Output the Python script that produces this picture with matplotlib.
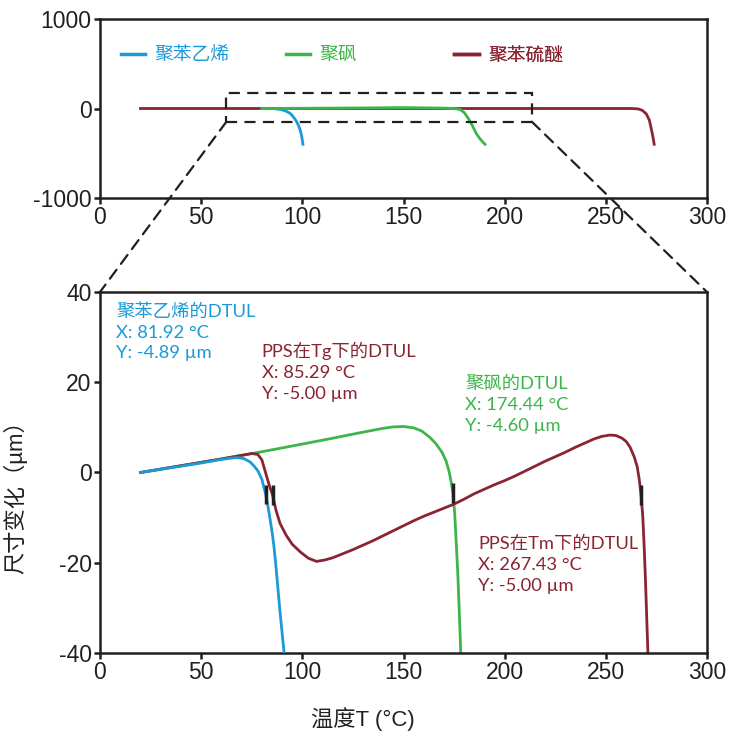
import matplotlib
matplotlib.use('Agg')
from matplotlib import pyplot as plt
from matplotlib.patches import Rectangle, ConnectionPatch
from matplotlib.lines import Line2D

plt.rcParams['font.family'] = ['Liberation Sans', 'Noto Sans CJK SC', 'DejaVu Sans']
plt.rcParams['axes.unicode_minus'] = False

BLUE = '#1a9ad8'
GREEN = '#3db54a'
RED = '#8a2433'

names = ['聚苯乙烯', '聚砜', '聚苯硫醚']

# top panel: full range curves
ps_top_x = [80, 84, 86, 88, 90, 92, 94, 95.5, 97, 98, 99, 99.7, 100.3]
ps_top_y = [0, 0, -2, -7, -15, -30, -55, -92, -140, -185, -245, -310, -400]
psu_top_x = [80, 120, 150, 170, 175, 178, 180, 182, 184, 186, 187.5, 189, 190.3]
psu_top_y = [0, 5, 10, 5, 0, -12, -45, -110, -190, -280, -330, -370, -400]
pps_top_x = [20, 100, 200, 263, 266, 268, 270, 271.5, 272.5, 273.3, 273.9]
pps_top_y = [0, 0, 0, 0, -5, -20, -60, -130, -230, -320, -400]

# bottom panel: zoomed curves
ps_x = [20, 30, 40, 50, 60, 65, 68, 71, 74, 76, 78, 80, 81.92, 83, 84, 85, 86,
        87, 88, 89, 90, 91]
ps_y = [0, 0.7, 1.4, 2.1, 2.9, 3.2, 3.3, 3.1, 2.4, 1.5, 0.4, -1.5, -4.89, -7.5,
        -10.2, -13, -16.5, -21, -26, -31, -35.5, -40]
psu_x = [20, 40, 60, 80, 100, 115, 125, 133, 140, 145, 150, 155, 159, 163,
         166, 169, 171, 172.5, 173.6, 174.44, 175.3, 176, 176.8, 177.5, 178.3]
psu_y = [0, 1.5, 3.0, 4.6, 6.3, 7.6, 8.5, 9.2, 9.8, 10.1, 10.2, 9.9, 9.2,
         7.8, 6.4, 4.5, 2.6, 0.3, -2.2, -4.6, -9, -15, -22, -30, -40]
pps_x = [20, 40, 60, 70, 75, 78, 80, 82, 83.5, 85.29, 87, 89, 92, 95, 99, 103,
         107, 111, 115, 120, 125, 130, 135, 140, 145, 150, 155, 160, 165, 170,
         175, 180, 185, 190, 195, 200, 205, 210, 215, 220, 225, 230, 235, 240,
         244, 248, 252, 255, 258, 260, 262, 264, 265.5, 266.5, 267.43, 268.3,
         269, 269.6, 270.2, 270.8]
pps_y = [0, 1.5, 3.0, 3.8, 4.2, 4.0, 2.8, -0.3, -2.6, -5.0, -8.4, -11.3, -13.9,
         -15.9, -17.6, -19.0, -19.7, -19.4, -18.9, -18.0, -17.1, -16.1, -15.1,
         -14.0, -12.9, -11.8, -10.7, -9.7, -8.8, -7.9, -7.0, -5.9, -4.7, -3.7,
         -2.7, -1.8, -0.8, 0.3, 1.4, 2.5, 3.5, 4.5, 5.6, 6.6, 7.4, 8.0, 8.3,
         8.2, 7.6, 6.9, 5.6, 3.5, 1.3, -1.5, -5.0, -10, -17, -24, -32, -40]

# DTUL points
dtul_x = [81.92, 85.29, 174.44, 267.43]
dtul_y = [-4.89, -5.00, -4.60, -5.00]
dtul_labels = ['聚苯乙烯的DTUL\nX: 81.92 °C\nY: -4.89 µm',
               'PPS在Tg下的DTUL\nX: 85.29 °C\nY: -5.00 µm',
               '聚砜的DTUL\nX: 174.44 °C\nY: -4.60 µm',
               'PPS在Tm下的DTUL\nX: 267.43 °C\nY: -5.00 µm']
dtul_colors = [BLUE, RED, GREEN, RED]
label_pos = [(7.9, 37.6), (80.0, 29.0), (180.4, 21.5), (187.0, -14.0)]

# zoom window in top panel
win_x = (62.5, 213.4)
win_y = (-147, 173)


def style_axes(ax):
    for s in ax.spines.values():
        s.set_linewidth(1.8)
        s.set_color('#231f20')
    ax.tick_params(direction='out', length=4, width=1.8, labelsize=16.5,
                   colors='#231f20', pad=2)


fig = plt.figure(figsize=(7.45, 7.41), dpi=100)
ax_top = fig.add_axes([100 / 745, 1 - 198 / 741, 607 / 745, 179 / 741])
ax_bot = fig.add_axes([100 / 745, 1 - 653 / 741, 607 / 745, 361 / 741])

lw = 2.0
ax_top.plot(pps_top_x, pps_top_y, color=RED, lw=lw, label=names[2])
ax_top.plot(ps_top_x, ps_top_y, color=BLUE, lw=lw, label=names[0])
ax_top.plot(psu_top_x, psu_top_y, color=GREEN, lw=lw, label=names[1])
ax_top.set_xlim(0, 300)
ax_top.set_ylim(-1000, 1000)
ax_top.set_xticks([0, 50, 100, 150, 200, 250, 300])
ax_top.set_yticks([-1000, 0, 1000])
style_axes(ax_top)

dash = (0, (5, 3.3))
ax_top.add_patch(Rectangle((win_x[0], win_y[0]), win_x[1] - win_x[0],
                           win_y[1] - win_y[0], fill=False, lw=1.6,
                           ls=dash, ec='#231f20', zorder=5))

# legend: three separate entries
leg_pos = [0.034, 0.306, 0.584]
for name, c, xp in zip(names, [BLUE, GREEN, RED], leg_pos):
    h = Line2D([], [], color=c, lw=2.5)
    leg = ax_top.legend([h], [name], loc='center left',
                        bbox_to_anchor=(xp, 0.80), frameon=False,
                        borderpad=0, borderaxespad=0, handlelength=1.3,
                        handletextpad=0.5,
                        prop={'family': ['Noto Sans CJK SC'], 'size': 13.5})
    for t in leg.get_texts():
        t.set_color(c)
    ax_top.add_artist(leg)

ax_bot.plot(ps_x, ps_y, color=BLUE, lw=lw, zorder=3)
ax_bot.plot(pps_x, pps_y, color=RED, lw=lw, zorder=2)
ax_bot.plot(psu_x, psu_y, color=GREEN, lw=lw, zorder=1)
ax_bot.vlines(dtul_x, [y - 2.2 for y in dtul_y], [y + 2.2 for y in dtul_y],
              color='#231f20', lw=2.5, zorder=4)
for txt, c, (tx, ty) in zip(dtul_labels, dtul_colors, label_pos):
    ax_bot.text(tx, ty, txt, color=c, fontsize=13.2, va='top', ha='left',
                linespacing=1.38, family=['Lato', 'Noto Sans CJK SC'])

ax_bot.set_xlim(0, 300)
ax_bot.set_ylim(-40, 40)
ax_bot.set_xticks([0, 50, 100, 150, 200, 250, 300])
ax_bot.set_yticks([-40, -20, 0, 20, 40])
style_axes(ax_bot)
ax_bot.set_xlabel('温度T (°C)', fontsize=16, color='#231f20')
ax_bot.xaxis.set_label_coords(0.433, -0.15)
ax_bot.set_ylabel('尺寸变化（µm）', fontsize=16, color='#231f20')
ax_bot.yaxis.set_label_coords(-0.12, 0.446)

# dashed connectors from the zoom window to the lower panel
for xa, xb in [(win_x[0], 0), (win_x[1], 300)]:
    con = ConnectionPatch(xyA=(xa, win_y[0]), coordsA=ax_top.transData,
                          xyB=(xb, 40), coordsB=ax_bot.transData,
                          color='#231f20', lw=1.6, ls=dash)
    fig.add_artist(con)

fig.savefig('out.png', dpi=100)
